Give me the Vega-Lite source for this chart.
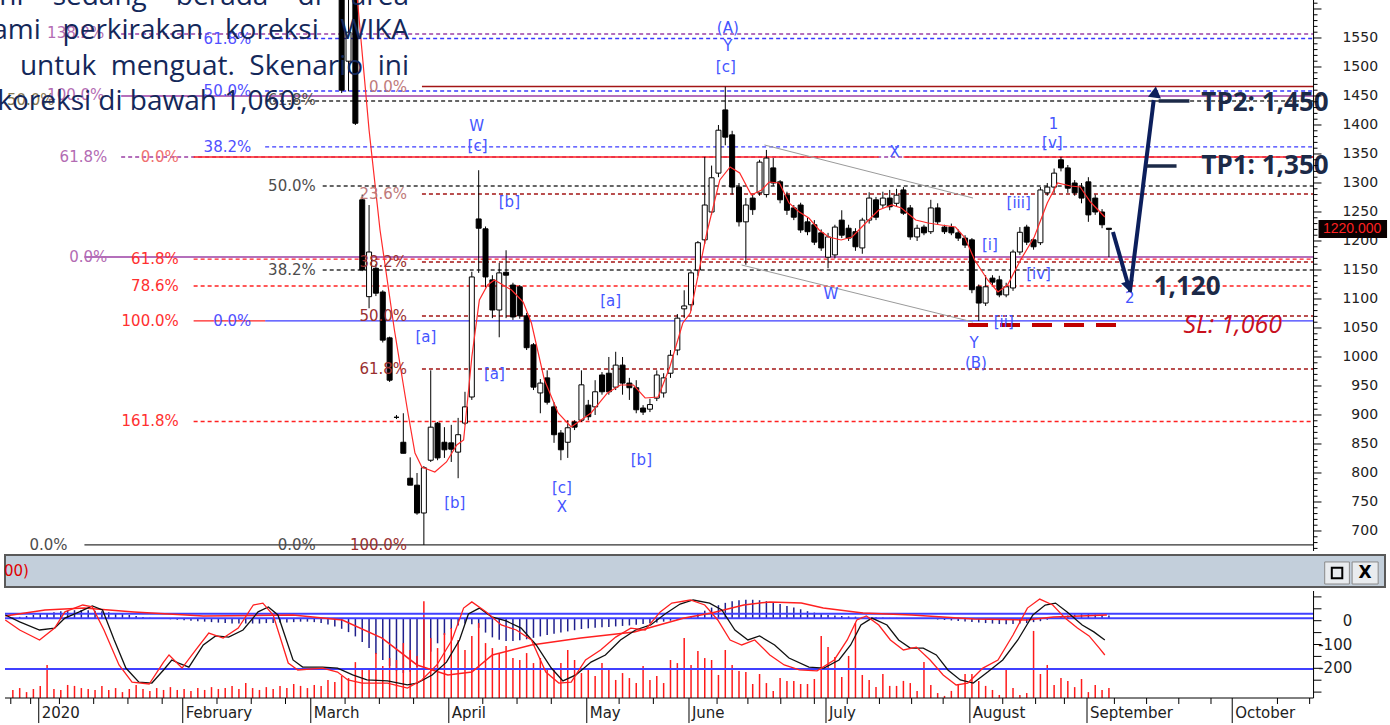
{
  "$schema": "https://vega.github.io/schema/vega-lite/v6.json",
  "width": 1390,
  "height": 725,
  "autosize": {"type": "none"},
  "padding": 0,
  "config": {"view": {"stroke": null}},
  "resolve": {"scale": {"y": "independent"}},
  "encoding": {
    "x": {"field": "i", "type": "quantitative", "scale": {"domain": [-5.145, 196.3], "nice": false, "zero": false}, "axis": null},
    "y": {"field": "p", "type": "quantitative", "scale": {"domain": [365.5, 1615.5], "nice": false, "zero": false}, "axis": null}
  },
  "layer": [
    {
      "data": {"values": [
        {"i":11.81,"i2":185.87,"p":1556.9,"set":"P"},{"i":11.81,"i2":185.87,"p":1344.8,"set":"P"},
        {"i":32.83,"i2":185.87,"p":1549.1,"set":"B"},{"i":32.83,"i2":185.87,"p":1458.6,"set":"B"},{"i":32.83,"i2":185.87,"p":1362.1,"set":"B"},
        {"i":22.39,"i2":185.87,"p":1168.9,"set":"R"},{"i":22.39,"i2":185.87,"p":1122.4,"set":"R"},{"i":22.39,"i2":185.87,"p":888.8,"set":"R"},
        {"i":55.72,"i2":185.87,"p":1281,"set":"D"},{"i":55.72,"i2":185.87,"p":1163.8,"set":"D"},{"i":55.72,"i2":185.87,"p":1070.7,"set":"D"},{"i":55.72,"i2":185.87,"p":979.3,"set":"D"},
        {"i":32.97,"i2":185.87,"p":1441.4,"set":"G"},{"i":41.23,"i2":185.87,"p":1294.8,"set":"G"},{"i":41.23,"i2":185.87,"p":1150,"set":"G"}
      ]},
      "mark": {"type": "rule", "strokeWidth": 1.3, "strokeDash": [4, 3]},
      "encoding": {
        "x2": {"field": "i2"},
        "stroke": {"field": "set", "type": "nominal", "legend": null, "scale": {"domain": ["P","B","R","D","G"], "range": ["#9b3fa5","#3b3bff","#ff2222","#a31515","#333333"]}}
      }
    },
    {
      "data": {"values": [
        {"i":11.81,"i2":185.87,"p":1450,"set":"P"},{"i":6.45,"i2":185.87,"p":1172.4,"set":"P"},
        {"i":32.83,"i2":185.87,"p":1062.1,"set":"B"},
        {"i":22.39,"i2":122.39,"p":1344.8,"set":"R"},{"i":126.01,"i2":185.87,"p":1344.8,"set":"R"},{"i":22.39,"i2":32.83,"p":1062.1,"set":"R"},
        {"i":55.72,"i2":185.87,"p":1466.4,"set":"D"},{"i":6.45,"i2":185.87,"p":675.9,"set":"G"}
      ]},
      "mark": {"type": "rule", "strokeWidth": 1.3},
      "encoding": {
        "x2": {"field": "i2"},
        "stroke": {"field": "set", "type": "nominal", "legend": null, "scale": {"domain": ["P","B","R","D","G"], "range": ["#9b3fa5","#3b3bff","#ff2222","#a31515","#333333"]}}
      }
    },
    {
      "data": {"values": [
        {"seg":"u","i":105.72,"p":1365.5},{"seg":"u","i":136.16,"p":1274.1},
        {"seg":"l","i":102.39,"p":1158.6},{"seg":"l","i":136.16,"p":1060.3}
      ]},
      "mark": {"type": "line", "stroke": "#9a9a9a", "strokeWidth": 1},
      "encoding": {"detail": {"field": "seg", "type": "nominal"}}
    },
    {
      "data": {"values": [{"i": 135.43, "i2": 158.19, "p": 1055.2}]},
      "mark": {"type": "rule", "stroke": "#c00000", "strokeWidth": 4, "strokeDash": [20, 12]},
      "encoding": {"x2": {"field": "i2"}}
    },
    {
      "data": {"values": [
        {"i":44,"o":1700,"h":1720,"l":1455,"c":1460},{"i":45,"o":1510,"h":1640,"l":1458,"c":1560},{"i":46,"o":1640,"h":1650,"l":1400,"c":1403},
        {"i":47,"o":1271,"h":1280,"l":1148,"c":1150},{"i":48,"o":1104,"h":1262,"l":1084,"c":1181},{"i":49,"o":1153,"h":1160,"l":1105,"c":1110},
        {"i":50,"o":1112,"h":1115,"l":1025,"c":1029},{"i":51,"o":1033,"h":1035,"l":957,"c":960},{"i":52,"o":896,"h":900,"l":893,"c":896},
        {"i":53,"o":853,"h":903,"l":834,"c":834},{"i":54,"o":791,"h":827,"l":779,"c":779},{"i":55,"o":779,"h":800,"l":728,"c":731},
        {"i":56,"o":731,"h":812,"l":676,"c":809},{"i":57,"o":822,"h":977,"l":819,"c":879},{"i":58,"o":886,"h":888,"l":822,"c":826},
        {"i":59,"o":853,"h":879,"l":826,"c":840},{"i":60,"o":852,"h":883,"l":819,"c":841},{"i":61,"o":836,"h":895,"l":791,"c":866},
        {"i":62,"o":886,"h":940,"l":883,"c":914},{"i":63,"o":931,"h":1147,"l":926,"c":1138},{"i":64,"o":1238,"h":1322,"l":1145,"c":1222},
        {"i":65,"o":1221,"h":1225,"l":1120,"c":1138},{"i":66,"o":1133,"h":1141,"l":1067,"c":1081},{"i":67,"o":1081,"h":1162,"l":1034,"c":1145},
        {"i":68,"o":1146,"h":1184,"l":1067,"c":1141},{"i":69,"o":1124,"h":1128,"l":1064,"c":1069},{"i":70,"o":1121,"h":1124,"l":1066,"c":1071},
        {"i":71,"o":1071,"h":1076,"l":1012,"c":1016},{"i":72,"o":1021,"h":1024,"l":943,"c":948},{"i":73,"o":938,"h":962,"l":903,"c":955},
        {"i":74,"o":964,"h":977,"l":918,"c":922},{"i":75,"o":914,"h":922,"l":852,"c":866},{"i":76,"o":869,"h":874,"l":822,"c":840},
        {"i":77,"o":853,"h":891,"l":826,"c":878},{"i":78,"o":888,"h":891,"l":874,"c":879},{"i":79,"o":891,"h":977,"l":888,"c":952},
        {"i":80,"o":917,"h":926,"l":891,"c":897},{"i":81,"o":914,"h":960,"l":900,"c":940},{"i":82,"o":969,"h":974,"l":935,"c":940},
        {"i":83,"o":972,"h":1000,"l":935,"c":940},{"i":84,"o":948,"h":1009,"l":943,"c":986},{"i":85,"o":986,"h":1000,"l":935,"c":955},
        {"i":86,"o":955,"h":964,"l":926,"c":947},{"i":87,"o":947,"h":960,"l":903,"c":909},{"i":88,"o":912,"h":917,"l":900,"c":905},
        {"i":89,"o":910,"h":928,"l":905,"c":918},{"i":90,"o":929,"h":977,"l":924,"c":969},{"i":91,"o":938,"h":972,"l":930,"c":964},
        {"i":92,"o":972,"h":1012,"l":964,"c":1003},{"i":93,"o":1012,"h":1074,"l":1003,"c":1067},{"i":94,"o":1083,"h":1115,"l":1067,"c":1088},
        {"i":95,"o":1090,"h":1150,"l":1080,"c":1145},{"i":96,"o":1150,"h":1200,"l":1140,"c":1197},{"i":97,"o":1202,"h":1345,"l":1195,"c":1262},
        {"i":98,"o":1250,"h":1330,"l":1245,"c":1309},{"i":99,"o":1317,"h":1400,"l":1310,"c":1391},{"i":100,"o":1426,"h":1466,"l":1365,"c":1379},
        {"i":101,"o":1383,"h":1390,"l":1280,"c":1293},{"i":102,"o":1293,"h":1300,"l":1225,"c":1233},{"i":103,"o":1233,"h":1274,"l":1159,"c":1262},
        {"i":104,"o":1274,"h":1280,"l":1245,"c":1254},{"i":105,"o":1283,"h":1340,"l":1278,"c":1336},{"i":106,"o":1280,"h":1357,"l":1275,"c":1343},
        {"i":107,"o":1326,"h":1343,"l":1295,"c":1300},{"i":108,"o":1302,"h":1305,"l":1265,"c":1271},{"i":109,"o":1279,"h":1285,"l":1245,"c":1253},
        {"i":110,"o":1257,"h":1262,"l":1236,"c":1241},{"i":111,"o":1262,"h":1266,"l":1214,"c":1219},{"i":112,"o":1233,"h":1240,"l":1210,"c":1216},
        {"i":113,"o":1228,"h":1236,"l":1193,"c":1198},{"i":114,"o":1214,"h":1220,"l":1183,"c":1188},{"i":115,"o":1172,"h":1214,"l":1153,"c":1207},
        {"i":116,"o":1176,"h":1228,"l":1170,"c":1224},{"i":117,"o":1236,"h":1253,"l":1205,"c":1210},{"i":118,"o":1222,"h":1228,"l":1200,"c":1205},
        {"i":119,"o":1216,"h":1222,"l":1183,"c":1190},{"i":120,"o":1188,"h":1240,"l":1178,"c":1236},{"i":121,"o":1236,"h":1284,"l":1230,"c":1274},
        {"i":122,"o":1271,"h":1276,"l":1236,"c":1241},{"i":123,"o":1262,"h":1285,"l":1257,"c":1274},{"i":124,"o":1274,"h":1288,"l":1253,"c":1259},
        {"i":125,"o":1265,"h":1290,"l":1260,"c":1279},{"i":126,"o":1288,"h":1293,"l":1245,"c":1248},{"i":127,"o":1257,"h":1262,"l":1202,"c":1207},
        {"i":128,"o":1207,"h":1228,"l":1200,"c":1222},{"i":129,"o":1224,"h":1228,"l":1210,"c":1214},{"i":130,"o":1216,"h":1271,"l":1212,"c":1257},
        {"i":131,"o":1257,"h":1265,"l":1228,"c":1233},{"i":132,"o":1224,"h":1228,"l":1212,"c":1216},{"i":133,"o":1224,"h":1230,"l":1210,"c":1214},
        {"i":134,"o":1214,"h":1220,"l":1200,"c":1205},{"i":135,"o":1205,"h":1210,"l":1188,"c":1193},{"i":136,"o":1202,"h":1205,"l":1110,"c":1116},
        {"i":137,"o":1121,"h":1125,"l":1062,"c":1093},{"i":138,"o":1093,"h":1141,"l":1088,"c":1121},{"i":139,"o":1136,"h":1141,"l":1124,"c":1129},
        {"i":140,"o":1133,"h":1140,"l":1103,"c":1107},{"i":141,"o":1107,"h":1128,"l":1103,"c":1121},{"i":142,"o":1119,"h":1185,"l":1114,"c":1181},
        {"i":143,"o":1181,"h":1224,"l":1176,"c":1215},{"i":144,"o":1224,"h":1228,"l":1193,"c":1198},{"i":145,"o":1202,"h":1205,"l":1185,"c":1190},
        {"i":146,"o":1197,"h":1293,"l":1193,"c":1288},{"i":147,"o":1283,"h":1300,"l":1278,"c":1293},{"i":148,"o":1293,"h":1325,"l":1283,"c":1317},
        {"i":149,"o":1340,"h":1345,"l":1320,"c":1326},{"i":150,"o":1326,"h":1331,"l":1283,"c":1291},{"i":151,"o":1300,"h":1305,"l":1278,"c":1283},
        {"i":152,"o":1293,"h":1300,"l":1265,"c":1274},{"i":153,"o":1302,"h":1310,"l":1233,"c":1245},{"i":154,"o":1274,"h":1280,"l":1245,"c":1250},
        {"i":155,"o":1250,"h":1255,"l":1222,"c":1228},{"i":156,"o":1222,"h":1222,"l":1172,"c":1220}
      ]},
      "layer": [
        {
          "mark": {"type": "rule", "stroke": "#000", "strokeWidth": 1, "clip": true},
          "encoding": {
            "y": {"field": "l", "type": "quantitative", "scale": {"domain": [365.5, 1615.5], "nice": false, "zero": false}, "axis": null},
            "y2": {"field": "h"}
          }
        },
        {
          "transform": [{"filter": "datum.c >= datum.o"}],
          "mark": {"type": "bar", "size": 5, "fill": "#ffffff", "stroke": "#000", "strokeWidth": 1, "clip": true},
          "encoding": {
            "y": {"field": "o", "type": "quantitative", "scale": {"domain": [365.5, 1615.5], "nice": false, "zero": false}, "axis": null},
            "y2": {"field": "c"}
          }
        },
        {
          "transform": [{"filter": "datum.c < datum.o"}],
          "mark": {"type": "bar", "size": 5, "fill": "#000000", "stroke": "#000", "strokeWidth": 1, "clip": true},
          "encoding": {
            "y": {"field": "o", "type": "quantitative", "scale": {"domain": [365.5, 1615.5], "nice": false, "zero": false}, "axis": null},
            "y2": {"field": "c"}
          }
        }
      ]
    },
    {
      "data": {"values": [
        {"i":45.6,"p":1667},{"i":46.3,"p":1615.5},{"i":48.0,"p":1391.4},{"i":49.6,"p":1219},{"i":51.7,"p":1046.5},{"i":53.6,"p":908.6},
        {"i":54.7,"p":834.5},{"i":55.7,"p":810.3},{"i":57.6,"p":801.7},{"i":59.3,"p":819},{"i":60.8,"p":848.3},{"i":61.8,"p":856.9},
        {"i":63.0,"p":1000},{"i":64.1,"p":1098.3},{"i":65.3,"p":1124.1},{"i":66.3,"p":1132.8},{"i":68.8,"p":1115.5},{"i":70.5,"p":1094.8},
        {"i":71.7,"p":1058.6},{"i":73.6,"p":960.3},{"i":75.6,"p":903.5},{"i":77.5,"p":879.3},{"i":80.4,"p":903.5},{"i":82.8,"p":938},
        {"i":84.7,"p":951.7},{"i":86.6,"p":951.7},{"i":88.3,"p":929.3},{"i":90.2,"p":931},{"i":91.9,"p":982.8},{"i":93.8,"p":1058.6},
        {"i":94.9,"p":1075.8},{"i":97.3,"p":1213.8},{"i":99.2,"p":1305.2},{"i":100.7,"p":1327.6},{"i":102.1,"p":1317.2},{"i":103.8,"p":1279.3},
        {"i":105.3,"p":1287.9},{"i":106.4,"p":1301.7},{"i":107.9,"p":1300},{"i":109.3,"p":1265.5},{"i":110.8,"p":1250},{"i":112.2,"p":1239.6},
        {"i":113.7,"p":1219},{"i":115.1,"p":1206.9},{"i":116.9,"p":1201.7},{"i":118.5,"p":1206.9},{"i":120.5,"p":1231},{"i":122.4,"p":1253.4},
        {"i":124.3,"p":1262.1},{"i":125.7,"p":1256.9},{"i":127.8,"p":1236.2},{"i":129.6,"p":1231},{"i":131.5,"p":1227.6},{"i":133.6,"p":1224.1},
        {"i":135.0,"p":1205.2},{"i":136.4,"p":1167.2},{"i":138.3,"p":1132.8},{"i":139.8,"p":1112.1},{"i":141.2,"p":1124.1},{"i":143.1,"p":1167.2},
        {"i":145.1,"p":1206.9},{"i":147.0,"p":1265.5},{"i":148.5,"p":1300},{"i":150.4,"p":1294.8},{"i":151.8,"p":1293.1},{"i":153.3,"p":1267.2},
        {"i":155.4,"p":1241.4}
      ]},
      "mark": {"type": "line", "stroke": "#ff2a2a", "strokeWidth": 1.2, "clip": true},
      "encoding": {}
    },
    {
      "data": {"values": [
        {"i":9.35,"p":1558.6,"t":"138.2%","set":"Pl"},{"i":9.35,"p":1451.7,"t":"100.0%","set":"Pl"},
        {"i":9.78,"p":1344.8,"t":"61.8%","set":"Pl"},{"i":9.78,"p":1172.4,"t":"0.0%","set":"Pl"},
        {"i":30.8,"p":1548.3,"t":"61.8%","set":"Bl"},{"i":30.8,"p":1458.6,"t":"50.0%","set":"Bl"},
        {"i":30.8,"p":1362.1,"t":"38.2%","set":"Bl"},{"i":30.8,"p":1062.1,"t":"0.0%","set":"Bl"},
        {"i":20.22,"p":1344.8,"t":"0.0%","set":"Rs"},{"i":20.22,"p":1169,"t":"61.8%","set":"Rl"},
        {"i":20.22,"p":1122.4,"t":"78.6%","set":"Rl"},{"i":20.22,"p":1062.1,"t":"100.0%","set":"Rl"},
        {"i":20.22,"p":889.6,"t":"161.8%","set":"Rl"},
        {"i":53.55,"p":1465.5,"t":"0.0%","set":"Dl2"},{"i":53.55,"p":1281,"t":"23.6%","set":"Dl2"},
        {"i":53.55,"p":1163.8,"t":"38.2%","set":"Dl"},{"i":53.55,"p":1070.7,"t":"50.0%","set":"Dl"},
        {"i":53.55,"p":979.3,"t":"61.8%","set":"Dl"},{"i":53.55,"p":675.9,"t":"100.0%","set":"Dl"},
        {"i":40.22,"p":1443.1,"t":"61.8%","set":"Gl"},{"i":40.22,"p":1294.8,"t":"50.0%","set":"Gl"},
        {"i":40.22,"p":1150,"t":"38.2%","set":"Gl"},{"i":40.22,"p":675.9,"t":"0.0%","set":"Gl"},
        {"i":3.99,"p":675.9,"t":"0.0%","set":"Gl"},{"i":2.1,"p":1443.1,"t":"50.0%","set":"Ol"}
      ]},
      "mark": {"type": "text", "align": "right", "baseline": "middle", "fontSize": 15, "font": "DejaVu Sans"},
      "encoding": {
        "text": {"field": "t", "type": "nominal"},
        "color": {"field": "set", "type": "nominal", "legend": null, "scale": {"domain": ["Pl","Bl","Rs","Rl","Dl","Dl2","Gl","Ol"], "range": ["#b36bb3","#5050ff","#f07070","#ff3030","#9a2f2f","#c07a7a","#4d4d4d","#8a7a50"]}}
      }
    },
    {
      "data": {"values": [
        {"i":100.36,"p":1567.2,"t":"(A)"},{"i":100.36,"p":1536.2,"t":"Y"},{"i":100.07,"p":1500,"t":"[c]"},
        {"i":63.7,"p":1398.3,"t":"W"},{"i":63.84,"p":1363.8,"t":"[c]"},{"i":68.48,"p":1267.2,"t":"[b]"},
        {"i":124.71,"p":1353.4,"t":"X"},{"i":147.9,"p":1401.7,"t":"1"},{"i":147.75,"p":1369,"t":"[v]"},
        {"i":142.83,"p":1265.5,"t":"[iii]"},{"i":138.62,"p":1193.1,"t":"[i]"},{"i":145.72,"p":1143.1,"t":"[iv]"},
        {"i":115.43,"p":1108.6,"t":"W"},{"i":83.26,"p":1096.5,"t":"[a]"},{"i":56.3,"p":1034.5,"t":"[a]"},
        {"i":66.3,"p":970.7,"t":"[a]"},{"i":140.65,"p":1060.3,"t":"[ii]"},{"i":136.3,"p":1024.1,"t":"Y"},
        {"i":136.59,"p":989.7,"t":"(B)"},{"i":60.51,"p":748.3,"t":"[b]"},{"i":76.16,"p":774.1,"t":"[c]"},
        {"i":76.16,"p":741.4,"t":"X"},{"i":87.75,"p":822.4,"t":"[b]"},{"i":159.06,"p":1101.7,"t":"2"}
      ]},
      "mark": {"type": "text", "align": "center", "baseline": "middle", "fontSize": 15, "font": "DejaVu Sans", "color": "#4455ff"},
      "encoding": {"text": {"field": "t", "type": "nominal"}}
    },
    {
      "data": {"values": [
        {"seg":"down","i":156.59,"p":1215.5},{"seg":"down","i":158.77,"p":1125.9},
        {"seg":"up","i":159.06,"p":1112.1},{"seg":"up","i":162.54,"p":1443.1}
      ]},
      "mark": {"type": "line", "stroke": "#0c1f5c", "strokeWidth": 4},
      "encoding": {"detail": {"field": "seg", "type": "nominal"}}
    },
    {
      "data": {"values": [{"i": 158.91, "p": 1120.7}]},
      "mark": {"type": "point", "shape": "triangle-down", "size": 170, "filled": true, "color": "#0c1f5c", "opacity": 1, "angle": 344},
      "encoding": {}
    },
    {
      "data": {"values": [{"i": 162.75, "p": 1456.9}]},
      "mark": {"type": "point", "shape": "triangle-up", "size": 170, "filled": true, "color": "#0c1f5c", "opacity": 1, "angle": 7},
      "encoding": {}
    },
    {
      "data": {"values": [{"i": 163.26, "i2": 167.75, "p": 1441.4}, {"i": 161.52, "i2": 165.87, "p": 1329.3}]},
      "mark": {"type": "rule", "stroke": "#1c2a48", "strokeWidth": 3.5},
      "encoding": {"x2": {"field": "i2"}}
    },
    {
      "data": {"values": [{"i": 169.49, "p": 1437.9, "t": "TP2: 1,450"}, {"i": 169.49, "p": 1329.3, "t": "TP1: 1,350"}, {"i": 162.54, "p": 1120.7, "t": "1,120"}]},
      "mark": {"type": "text", "align": "left", "baseline": "middle", "font": "Open Sans", "fontWeight": "bold", "fontSize": 26, "color": "#1c2a48"},
      "encoding": {"text": {"field": "t", "type": "nominal"}}
    },
    {
      "data": {"values": [{"i": 166.88, "p": 1055.2, "t": "SL: 1,060"}]},
      "mark": {"type": "text", "align": "left", "baseline": "middle", "font": "Open Sans", "fontStyle": "italic", "fontSize": 25, "color": "#c8101e"},
      "encoding": {"text": {"field": "t", "type": "nominal"}}
    },
    {
      "data": {"values": [{"i": 185.87, "p": 665.5, "p2": 1615.5}]},
      "mark": {"type": "rule", "stroke": "#000", "strokeWidth": 1},
      "encoding": {"y2": {"field": "p2"}}
    },
    {
      "data": {"values": [
        {"i":185.87,"i2":186.45,"p":670},{"i":185.87,"i2":186.45,"p":680},{"i":185.87,"i2":186.45,"p":690},{"i":185.87,"i2":186.45,"p":710},{"i":185.87,"i2":186.45,"p":720},
        {"i":185.87,"i2":186.45,"p":730},{"i":185.87,"i2":186.45,"p":740},{"i":185.87,"i2":186.45,"p":760},{"i":185.87,"i2":186.45,"p":770},{"i":185.87,"i2":186.45,"p":780},
        {"i":185.87,"i2":186.45,"p":790},{"i":185.87,"i2":186.45,"p":810},{"i":185.87,"i2":186.45,"p":820},{"i":185.87,"i2":186.45,"p":830},{"i":185.87,"i2":186.45,"p":840},
        {"i":185.87,"i2":186.45,"p":860},{"i":185.87,"i2":186.45,"p":870},{"i":185.87,"i2":186.45,"p":880},{"i":185.87,"i2":186.45,"p":890},{"i":185.87,"i2":186.45,"p":910},
        {"i":185.87,"i2":186.45,"p":920},{"i":185.87,"i2":186.45,"p":930},{"i":185.87,"i2":186.45,"p":940},{"i":185.87,"i2":186.45,"p":960},{"i":185.87,"i2":186.45,"p":970},
        {"i":185.87,"i2":186.45,"p":980},{"i":185.87,"i2":186.45,"p":990},{"i":185.87,"i2":186.45,"p":1010},{"i":185.87,"i2":186.45,"p":1020},{"i":185.87,"i2":186.45,"p":1030},
        {"i":185.87,"i2":186.45,"p":1040},{"i":185.87,"i2":186.45,"p":1060},{"i":185.87,"i2":186.45,"p":1070},{"i":185.87,"i2":186.45,"p":1080},{"i":185.87,"i2":186.45,"p":1090},
        {"i":185.87,"i2":186.45,"p":1110},{"i":185.87,"i2":186.45,"p":1120},{"i":185.87,"i2":186.45,"p":1130},{"i":185.87,"i2":186.45,"p":1140},{"i":185.87,"i2":186.45,"p":1160},
        {"i":185.87,"i2":186.45,"p":1170},{"i":185.87,"i2":186.45,"p":1180},{"i":185.87,"i2":186.45,"p":1190},{"i":185.87,"i2":186.45,"p":1210},{"i":185.87,"i2":186.45,"p":1220},
        {"i":185.87,"i2":186.45,"p":1230},{"i":185.87,"i2":186.45,"p":1240},{"i":185.87,"i2":186.45,"p":1260},{"i":185.87,"i2":186.45,"p":1270},{"i":185.87,"i2":186.45,"p":1280},
        {"i":185.87,"i2":186.45,"p":1290},{"i":185.87,"i2":186.45,"p":1310},{"i":185.87,"i2":186.45,"p":1320},{"i":185.87,"i2":186.45,"p":1330},{"i":185.87,"i2":186.45,"p":1340},
        {"i":185.87,"i2":186.45,"p":1360},{"i":185.87,"i2":186.45,"p":1370},{"i":185.87,"i2":186.45,"p":1380},{"i":185.87,"i2":186.45,"p":1390},{"i":185.87,"i2":186.45,"p":1410},
        {"i":185.87,"i2":186.45,"p":1420},{"i":185.87,"i2":186.45,"p":1430},{"i":185.87,"i2":186.45,"p":1440},{"i":185.87,"i2":186.45,"p":1460},{"i":185.87,"i2":186.45,"p":1470},
        {"i":185.87,"i2":186.45,"p":1480},{"i":185.87,"i2":186.45,"p":1490},{"i":185.87,"i2":186.45,"p":1510},{"i":185.87,"i2":186.45,"p":1520},{"i":185.87,"i2":186.45,"p":1530},
        {"i":185.87,"i2":186.45,"p":1540},{"i":185.87,"i2":186.45,"p":1560},{"i":185.87,"i2":186.45,"p":1570},{"i":185.87,"i2":186.45,"p":1580},{"i":185.87,"i2":186.45,"p":1590},
        {"i":185.87,"i2":186.45,"p":1610},
        {"i":185.87,"i2":187.03,"p":700},{"i":185.87,"i2":187.03,"p":750},{"i":185.87,"i2":187.03,"p":800},{"i":185.87,"i2":187.03,"p":850},{"i":185.87,"i2":187.03,"p":900},
        {"i":185.87,"i2":187.03,"p":950},{"i":185.87,"i2":187.03,"p":1000},{"i":185.87,"i2":187.03,"p":1050},{"i":185.87,"i2":187.03,"p":1100},{"i":185.87,"i2":187.03,"p":1150},
        {"i":185.87,"i2":187.03,"p":1200},{"i":185.87,"i2":187.03,"p":1250},{"i":185.87,"i2":187.03,"p":1300},{"i":185.87,"i2":187.03,"p":1350},{"i":185.87,"i2":187.03,"p":1400},
        {"i":185.87,"i2":187.03,"p":1450},{"i":185.87,"i2":187.03,"p":1500},{"i":185.87,"i2":187.03,"p":1550},{"i":185.87,"i2":187.03,"p":1600}
      ]},
      "mark": {"type": "rule", "stroke": "#000", "strokeWidth": 1},
      "encoding": {"x2": {"field": "i2"}}
    },
    {
      "data": {"values": [
        {"i":195.29,"p":700},{"i":195.29,"p":750},{"i":195.29,"p":800},{"i":195.29,"p":850},{"i":195.29,"p":900},{"i":195.29,"p":950},
        {"i":195.29,"p":1000},{"i":195.29,"p":1050},{"i":195.29,"p":1100},{"i":195.29,"p":1150},{"i":195.29,"p":1200},{"i":195.29,"p":1250},
        {"i":195.29,"p":1300},{"i":195.29,"p":1350},{"i":195.29,"p":1400},{"i":195.29,"p":1450},{"i":195.29,"p":1500},{"i":195.29,"p":1550}
      ]},
      "mark": {"type": "text", "align": "right", "baseline": "middle", "font": "DejaVu Sans", "fontSize": 14, "color": "#222"},
      "encoding": {"text": {"field": "p", "type": "quantitative", "format": "d"}}
    },
    {
      "data": {"values": [{"i": 186.6, "i2": 196.6, "p": 1236, "p2": 1205}]},
      "mark": {"type": "rect", "fill": "#0a0000"},
      "encoding": {"x2": {"field": "i2"}, "y2": {"field": "p2"}}
    },
    {
      "data": {"values": [{"i": 191.5, "p": 1220.5, "t": "1220.000"}]},
      "mark": {"type": "text", "align": "center", "baseline": "middle", "font": "Liberation Sans", "fontSize": 14, "color": "#ff2020"},
      "encoding": {"text": {"field": "t", "type": "nominal"}}
    },
    {
      "data": {"values": [
        {"i":53.84,"p":1606.9,"t":"WIKA saat ini \u00a0\u00a0\u00a0sedang \u00a0\u00a0\u00a0berada \u00a0\u00a0\u00a0di \u00a0\u00a0\u00a0area"},
        {"i":53.84,"p":1548.3,"t":"Kami \u00a0\u00a0perkirakan \u00a0\u00a0koreksi \u00a0\u00a0WIKA"},
        {"i":53.84,"p":1486.2,"t":"untuk \u00a0menguat. \u00a0Skenario \u00a0ini"},
        {"i":38.33,"p":1425.9,"t":"koreksi di bawah 1,060."}
      ]},
      "mark": {"type": "text", "align": "right", "baseline": "alphabetic", "font": "Open Sans", "fontSize": 28, "color": "#14285a", "clip": true},
      "encoding": {"text": {"field": "t", "type": "nominal"}}
    },
    {
      "data": {"values": [{"i": -5.145, "i2": 196.3, "p": 658.6, "p2": 603.5}]},
      "mark": {"type": "rect", "fill": "#c3cfdb", "stroke": "#5a5a5a", "strokeWidth": 2},
      "encoding": {"x2": {"field": "i2"}, "y2": {"field": "p2"}}
    },
    {
      "data": {"values": [{"i": -5.3, "p": 631, "t": "00)"}]},
      "mark": {"type": "text", "align": "left", "baseline": "middle", "font": "DejaVu Sans", "fontSize": 15, "color": "#e00000", "clip": true},
      "encoding": {"text": {"field": "t", "type": "nominal"}}
    },
    {
      "data": {"values": [{"i": 187.5, "i2": 191.1, "p": 646.6, "p2": 608.6}, {"i": 191.5, "i2": 195.3, "p": 646.6, "p2": 608.6}]},
      "mark": {"type": "rect", "fill": "#e9ecef", "stroke": "#8a8a8a", "strokeWidth": 1},
      "encoding": {"x2": {"field": "i2"}, "y2": {"field": "p2"}}
    },
    {
      "data": {"values": [{"i": 189.3, "p": 627.6}]},
      "mark": {"type": "point", "shape": "square", "size": 110, "filled": false, "stroke": "#000", "strokeWidth": 2, "opacity": 1},
      "encoding": {}
    },
    {
      "data": {"values": [{"i": 193.4, "p": 627.6, "t": "X"}]},
      "mark": {"type": "text", "align": "center", "baseline": "middle", "font": "DejaVu Sans", "fontSize": 17, "fontWeight": "bold", "color": "#000"},
      "encoding": {"text": {"field": "t", "type": "nominal"}}
    },
    {
      "data": {"values": [
        {"i":-4,"vt":-291,"hb":14},{"i":-3,"vt":-283,"hb":16},{"i":-2,"vt":-300,"hb":20},{"i":-1,"vt":-287,"hb":24},
        {"i":0,"vt":-274,"hb":28},{"i":1,"vt":-186,"hb":32},{"i":2,"vt":-287,"hb":36},{"i":3,"vt":-291,"hb":40},{"i":4,"vt":-270,"hb":42},
        {"i":5,"vt":-274,"hb":44},{"i":6,"vt":-283,"hb":45},{"i":7,"vt":-287,"hb":44},{"i":8,"vt":-291,"hb":42},{"i":9,"vt":-274,"hb":40},
        {"i":10,"vt":-291,"hb":36},{"i":11,"vt":-283,"hb":32},{"i":12,"vt":-300,"hb":28},{"i":13,"vt":-287,"hb":24},{"i":14,"vt":-270,"hb":20},
        {"i":15,"vt":-287,"hb":16},{"i":16,"vt":-295,"hb":12},{"i":17,"vt":-283,"hb":10},{"i":18,"vt":-291,"hb":8},{"i":19,"vt":-279,"hb":6},
        {"i":20,"vt":-291,"hb":4},{"i":21,"vt":-287,"hb":2},{"i":22,"vt":-295,"hb":0},{"i":23,"vt":-283,"hb":-2},{"i":24,"vt":-291,"hb":-4},
        {"i":25,"vt":-279,"hb":-6},{"i":26,"vt":-287,"hb":-8},{"i":27,"vt":-283,"hb":-10},{"i":28,"vt":-274,"hb":-12},{"i":29,"vt":-287,"hb":-12},
        {"i":30,"vt":-262,"hb":-12},{"i":31,"vt":-283,"hb":-12},{"i":32,"vt":-291,"hb":-12},{"i":33,"vt":-279,"hb":-10},{"i":34,"vt":-287,"hb":-10},
        {"i":35,"vt":-274,"hb":-8},{"i":36,"vt":-283,"hb":-8},{"i":37,"vt":-266,"hb":-6},{"i":38,"vt":-274,"hb":-4},{"i":39,"vt":-283,"hb":-4},
        {"i":40,"vt":-270,"hb":-6},{"i":41,"vt":-274,"hb":-10},{"i":42,"vt":-249,"hb":-16},{"i":43,"vt":-258,"hb":-24},{"i":44,"vt":-232,"hb":-34},
        {"i":45,"vt":-241,"hb":-48},{"i":46,"vt":-174,"hb":-66},{"i":47,"vt":-207,"hb":-90},{"i":48,"vt":-199,"hb":-115},{"i":49,"vt":-136,"hb":-140},
        {"i":50,"vt":-190,"hb":-165},{"i":51,"vt":-157,"hb":-190},{"i":52,"vt":-165,"hb":-210},{"i":53,"vt":-94,"hb":-220},{"i":54,"vt":-123,"hb":-215},
        {"i":55,"vt":-148,"hb":-195},{"i":56,"vt":82,"hb":-165},{"i":57,"vt":-73,"hb":-130},{"i":58,"vt":-115,"hb":-95},{"i":59,"vt":-52,"hb":-60},
        {"i":60,"vt":-31,"hb":-35},{"i":61,"vt":-81,"hb":-20},{"i":62,"vt":-123,"hb":-12},{"i":63,"vt":-64,"hb":-15},{"i":64,"vt":-10,"hb":-30},
        {"i":65,"vt":-94,"hb":-50},{"i":66,"vt":-115,"hb":-70},{"i":67,"vt":-136,"hb":-80},{"i":68,"vt":-106,"hb":-85},{"i":69,"vt":-157,"hb":-85},
        {"i":70,"vt":-165,"hb":-82},{"i":71,"vt":-136,"hb":-78},{"i":72,"vt":-178,"hb":-72},{"i":73,"vt":-157,"hb":-66},{"i":74,"vt":-199,"hb":-60},
        {"i":75,"vt":-207,"hb":-55},{"i":76,"vt":-178,"hb":-50},{"i":77,"vt":-123,"hb":-45},{"i":78,"vt":-165,"hb":-40},{"i":79,"vt":-220,"hb":-35},
        {"i":80,"vt":-199,"hb":-32},{"i":81,"vt":-232,"hb":-30},{"i":82,"vt":-178,"hb":-28},{"i":83,"vt":-207,"hb":-26},{"i":84,"vt":-249,"hb":-24},
        {"i":85,"vt":-220,"hb":-22},{"i":86,"vt":-241,"hb":-20},{"i":87,"vt":-262,"hb":-17},{"i":88,"vt":-190,"hb":-14},{"i":89,"vt":-249,"hb":-11},
        {"i":90,"vt":-232,"hb":-8},{"i":91,"vt":-262,"hb":-4},{"i":92,"vt":-165,"hb":0},{"i":93,"vt":-178,"hb":4},{"i":94,"vt":-73,"hb":10},
        {"i":95,"vt":-186,"hb":20},{"i":96,"vt":-127,"hb":30},{"i":97,"vt":-157,"hb":42},{"i":98,"vt":-165,"hb":55},{"i":99,"vt":-228,"hb":65},
        {"i":100,"vt":-123,"hb":75},{"i":101,"vt":-186,"hb":82},{"i":102,"vt":-211,"hb":86},{"i":103,"vt":-216,"hb":88},{"i":104,"vt":-266,"hb":88},
        {"i":105,"vt":-224,"hb":86},{"i":106,"vt":-262,"hb":82},{"i":107,"vt":-295,"hb":76},{"i":108,"vt":-241,"hb":70},{"i":109,"vt":-253,"hb":62},
        {"i":110,"vt":-253,"hb":55},{"i":111,"vt":-266,"hb":48},{"i":112,"vt":-266,"hb":40},{"i":113,"vt":-245,"hb":34},{"i":114,"vt":-64,"hb":28},
        {"i":115,"vt":-111,"hb":24},{"i":116,"vt":-153,"hb":22},{"i":117,"vt":-237,"hb":20},{"i":118,"vt":-148,"hb":18},{"i":119,"vt":-10,"hb":17},
        {"i":120,"vt":-228,"hb":16},{"i":121,"vt":-249,"hb":15},{"i":122,"vt":-279,"hb":14},{"i":123,"vt":-224,"hb":13},{"i":124,"vt":-274,"hb":12},
        {"i":125,"vt":-274,"hb":12},{"i":126,"vt":-253,"hb":11},{"i":127,"vt":-262,"hb":10},{"i":128,"vt":-295,"hb":9},{"i":129,"vt":-174,"hb":8},
        {"i":130,"vt":-270,"hb":7},{"i":131,"vt":-304,"hb":5},{"i":132,"vt":-316,"hb":3},{"i":133,"vt":-295,"hb":1},{"i":134,"vt":-270,"hb":-1},
        {"i":135,"vt":-224,"hb":-3},{"i":136,"vt":-224,"hb":-5},{"i":137,"vt":-253,"hb":-8},{"i":138,"vt":-274,"hb":-10},{"i":139,"vt":-291,"hb":-12},
        {"i":140,"vt":-312,"hb":-14},{"i":141,"vt":-203,"hb":-15},{"i":142,"vt":-283,"hb":-14},{"i":143,"vt":-312,"hb":-12},{"i":144,"vt":-304,"hb":-10},
        {"i":145,"vt":-43,"hb":-6},{"i":146,"vt":-224,"hb":-2},{"i":147,"vt":-186,"hb":4},{"i":148,"vt":-270,"hb":10},{"i":149,"vt":-241,"hb":16},
        {"i":150,"vt":-253,"hb":22},{"i":151,"vt":-279,"hb":26},{"i":152,"vt":-245,"hb":28},{"i":153,"vt":-300,"hb":28},{"i":154,"vt":-270,"hb":26},
        {"i":155,"vt":-291,"hb":24},{"i":156,"vt":-283,"hb":22}
      ]},
      "layer": [
        {
          "mark": {"type": "rule", "stroke": "#20208c", "strokeWidth": 1.5},
          "encoding": {
            "y": {"field": "hb", "type": "quantitative", "scale": {"domain": [-324.8, 124.8], "range": [698, 591], "nice": false, "zero": false}, "axis": null},
            "y2": {"datum": 10}
          }
        },
        {
          "mark": {"type": "rule", "stroke": "#ff1a1a", "strokeWidth": 1.5},
          "encoding": {
            "y": {"field": "vt", "type": "quantitative", "scale": {"domain": [-324.8, 124.8], "range": [698, 591], "nice": false, "zero": false}, "axis": null},
            "y2": {"datum": -324.8}
          }
        }
      ]
    },
    {
      "data": {"values": [{"i": -5.145, "i2": 185.87, "v": 29.4}, {"i": -5.145, "i2": 185.87, "v": 10}, {"i": -5.145, "i2": 185.87, "v": -203}]},
      "mark": {"type": "rule", "stroke": "#4040ff", "strokeWidth": 2},
      "encoding": {
        "x2": {"field": "i2"},
        "y": {"field": "v", "type": "quantitative", "scale": {"domain": [-324.8, 124.8], "range": [698, 591], "nice": false, "zero": false}, "axis": null}
      }
    },
    {
      "data": {"values": [
        {"i":-5.1,"v":20},{"i":0.7,"v":45},{"i":6.4,"v":53},{"i":13.7,"v":37},{"i":23.8,"v":20},{"i":36.9,"v":24},{"i":44.1,"v":3},
        {"i":49.9,"v":-73},{"i":55.0,"v":-186},{"i":59.5,"v":-228},{"i":63.0,"v":-216},{"i":66.0,"v":-144},{"i":71.7,"v":-102},
        {"i":78.9,"v":-73},{"i":86.7,"v":-47},{"i":94.0,"v":11},{"i":98.0,"v":32},{"i":102.7,"v":66},{"i":106.5,"v":79},
        {"i":111.1,"v":74},{"i":114.3,"v":53},{"i":120.1,"v":32},{"i":127.2,"v":24},{"i":136.3,"v":7},{"i":144.0,"v":3},
        {"i":147.9,"v":16},{"i":155.7,"v":24}
      ]},
      "mark": {"type": "line", "stroke": "#ff2020", "strokeWidth": 1.5},
      "encoding": {"y": {"field": "v", "type": "quantitative", "scale": {"domain": [-324.8, 124.8], "range": [698, 591], "nice": false, "zero": false}, "axis": null}}
    },
    {
      "data": {"values": [
        {"i":-5.1,"v":24},{"i":-3.0,"v":-5},{"i":-0.1,"v":-39},{"i":2.1,"v":-31},{"i":3.6,"v":11},{"i":5.7,"v":37},{"i":7.6,"v":62},
        {"i":9.1,"v":45},{"i":10.8,"v":-81},{"i":12.5,"v":-199},{"i":14.4,"v":-258},{"i":16.3,"v":-262},{"i":18.0,"v":-207},
        {"i":19.2,"v":-165},{"i":20.2,"v":-178},{"i":21.7,"v":-195},{"i":23.8,"v":-102},{"i":25.6,"v":-64},{"i":27.5,"v":-69},
        {"i":29.6,"v":-39},{"i":31.8,"v":37},{"i":33.3,"v":58},{"i":34.7,"v":24},{"i":36.9,"v":-165},{"i":38.3,"v":-195},
        {"i":41.2,"v":-195},{"i":43.4,"v":-199},{"i":45.6,"v":-228},{"i":47.7,"v":-249},{"i":50.7,"v":-253},{"i":53.6,"v":-270},
        {"i":55.0,"v":-262},{"i":57.2,"v":-228},{"i":59.3,"v":-174},{"i":61.2,"v":-81},{"i":62.5,"v":28},{"i":64.1,"v":53},
        {"i":65.9,"v":16},{"i":68.0,"v":-1},{"i":70.2,"v":-31},{"i":72.4,"v":-102},{"i":74.6,"v":-199},{"i":76.3,"v":-253},
        {"i":78.2,"v":-228},{"i":80.4,"v":-174},{"i":82.5,"v":-144},{"i":84.7,"v":-81},{"i":86.9,"v":-39},{"i":89.1,"v":-18},
        {"i":91.2,"v":28},{"i":93.4,"v":70},{"i":95.3,"v":87},{"i":97.7,"v":74},{"i":99.5,"v":45},{"i":101.4,"v":-39},
        {"i":103.3,"v":-81},{"i":105.0,"v":-64},{"i":107.2,"v":-102},{"i":109.3,"v":-157},{"i":112.2,"v":-195},{"i":114.4,"v":-199},
        {"i":116.6,"v":-165},{"i":118.3,"v":-102},{"i":119.8,"v":-18},{"i":121.4,"v":11},{"i":123.6,"v":-18},{"i":125.3,"v":-81},
        {"i":127.0,"v":-115},{"i":128.9,"v":-115},{"i":130.8,"v":-144},{"i":132.5,"v":-207},{"i":134.3,"v":-249},{"i":136.2,"v":-262},
        {"i":138.3,"v":-216},{"i":140.5,"v":-165},{"i":142.7,"v":-81},{"i":144.9,"v":24},{"i":146.7,"v":66},{"i":148.2,"v":74},
        {"i":149.9,"v":37},{"i":152.1,"v":-18},{"i":153.8,"v":-47},{"i":155.4,"v":-81}
      ]},
      "mark": {"type": "line", "stroke": "#111", "strokeWidth": 1.3},
      "encoding": {"y": {"field": "v", "type": "quantitative", "scale": {"domain": [-324.8, 124.8], "range": [698, 591], "nice": false, "zero": false}, "axis": null}}
    },
    {
      "data": {"values": [
        {"i":-5.1,"v":3},{"i":-3.0,"v":-39},{"i":-0.1,"v":-81},{"i":2.1,"v":-31},{"i":3.6,"v":37},{"i":6.2,"v":66},{"i":7.6,"v":58},
        {"i":9.3,"v":-39},{"i":11.5,"v":-186},{"i":13.4,"v":-258},{"i":15.9,"v":-266},{"i":18.0,"v":-174},{"i":18.8,"v":-144},
        {"i":20.7,"v":-199},{"i":22.7,"v":-123},{"i":24.6,"v":-52},{"i":26.7,"v":-73},{"i":28.9,"v":-31},{"i":31.1,"v":66},
        {"i":32.5,"v":74},{"i":34.0,"v":24},{"i":36.2,"v":-178},{"i":37.6,"v":-207},{"i":41.2,"v":-199},{"i":43.4,"v":-216},
        {"i":44.9,"v":-249},{"i":47.0,"v":-262},{"i":50.7,"v":-262},{"i":53.6,"v":-283},{"i":55.7,"v":-249},{"i":57.9,"v":-186},
        {"i":60.1,"v":-81},{"i":61.8,"v":53},{"i":63.0,"v":79},{"i":65.1,"v":37},{"i":67.3,"v":-18},{"i":69.5,"v":-39},
        {"i":71.7,"v":-81},{"i":73.8,"v":-216},{"i":75.7,"v":-262},{"i":77.5,"v":-258},{"i":79.6,"v":-165},{"i":81.8,"v":-123},
        {"i":84.0,"v":-69},{"i":86.2,"v":-31},{"i":88.3,"v":-39},{"i":90.5,"v":37},{"i":92.2,"v":74},{"i":94.9,"v":87},
        {"i":97.0,"v":66},{"i":98.9,"v":3},{"i":100.7,"v":-81},{"i":102.4,"v":-102},{"i":104.3,"v":-81},{"i":106.5,"v":-144},
        {"i":108.6,"v":-186},{"i":110.8,"v":-207},{"i":113.4,"v":-211},{"i":115.9,"v":-165},{"i":117.8,"v":-81},{"i":119.2,"v":3},
        {"i":120.6,"v":20},{"i":122.4,"v":-18},{"i":124.1,"v":-81},{"i":126.0,"v":-123},{"i":127.9,"v":-111},{"i":129.9,"v":-165},
        {"i":131.8,"v":-228},{"i":133.7,"v":-270},{"i":135.4,"v":-262},{"i":137.6,"v":-199},{"i":139.8,"v":-165},{"i":142.0,"v":-60},
        {"i":144.1,"v":53},{"i":145.9,"v":91},{"i":147.8,"v":66},{"i":149.6,"v":11},{"i":151.4,"v":-31},{"i":153.1,"v":-64},
        {"i":154.6,"v":-115},{"i":155.4,"v":-144}
      ]},
      "mark": {"type": "line", "stroke": "#ff2020", "strokeWidth": 1.3},
      "encoding": {"y": {"field": "v", "type": "quantitative", "scale": {"domain": [-324.8, 124.8], "range": [698, 591], "nice": false, "zero": false}, "axis": null}}
    },
    {
      "data": {"values": [
        {"i":185.87,"v":-324.8,"v2":124.8},{"i":-5.145,"v":-324.8,"v2":-324.8}
      ]},
      "mark": {"type": "rule", "stroke": "#000", "strokeWidth": 1},
      "encoding": {
        "y": {"field": "v", "type": "quantitative", "scale": {"domain": [-324.8, 124.8], "range": [698, 591], "nice": false, "zero": false}, "axis": null},
        "y2": {"field": "v2"}
      }
    },
    {
      "data": {"values": [{"i": -5.145, "i2": 185.87, "v": -324.8}]},
      "mark": {"type": "rule", "stroke": "#000", "strokeWidth": 1},
      "encoding": {
        "x2": {"field": "i2"},
        "y": {"field": "v", "type": "quantitative", "scale": {"domain": [-324.8, 124.8], "range": [698, 591], "nice": false, "zero": false}, "axis": null}
      }
    },
    {
      "data": {"values": [
        {"i":185.87,"i2":187.03,"v":-300},{"i":185.87,"i2":187.03,"v":-250},{"i":185.87,"i2":187.03,"v":-200},{"i":185.87,"i2":187.03,"v":-150},
        {"i":185.87,"i2":187.03,"v":-100},{"i":185.87,"i2":187.03,"v":-50},{"i":185.87,"i2":187.03,"v":0},{"i":185.87,"i2":187.03,"v":50},{"i":185.87,"i2":187.03,"v":100}
      ]},
      "mark": {"type": "rule", "stroke": "#000", "strokeWidth": 1},
      "encoding": {
        "x2": {"field": "i2"},
        "y": {"field": "v", "type": "quantitative", "scale": {"domain": [-324.8, 124.8], "range": [698, 591], "nice": false, "zero": false}, "axis": null}
      }
    },
    {
      "data": {"values": [{"i": 191.52, "v": 0, "t": "0"}, {"i": 191.52, "v": -100, "t": "-100"}, {"i": 191.52, "v": -200, "t": "-200"}]},
      "mark": {"type": "text", "align": "right", "baseline": "middle", "font": "DejaVu Sans", "fontSize": 15, "color": "#222"},
      "encoding": {
        "text": {"field": "t", "type": "nominal"},
        "y": {"field": "v", "type": "quantitative", "scale": {"domain": [-324.8, 124.8], "range": [698, 591], "nice": false, "zero": false}, "axis": null}
      }
    },
    {
      "data": {"values": [
        {"i":-4.3,"v":-324.8,"v2":-350},{"i":-1.4,"v":-324.8,"v2":-350},{"i":2.8,"v":-324.8,"v2":-350},{"i":7.8,"v":-324.8,"v2":-350},
        {"i":12.8,"v":-324.8,"v2":-350},{"i":17.8,"v":-324.8,"v2":-350},{"i":25.8,"v":-324.8,"v2":-350},{"i":30.8,"v":-324.8,"v2":-350},
        {"i":35.8,"v":-324.8,"v2":-350},{"i":44.5,"v":-324.8,"v2":-350},{"i":49.5,"v":-324.8,"v2":-350},{"i":54.5,"v":-324.8,"v2":-350},
        {"i":64.6,"v":-324.8,"v2":-350},{"i":69.6,"v":-324.8,"v2":-350},{"i":74.6,"v":-324.8,"v2":-350},{"i":84.5,"v":-324.8,"v2":-350},
        {"i":89.5,"v":-324.8,"v2":-350},{"i":98.8,"v":-324.8,"v2":-350},{"i":103.3,"v":-324.8,"v2":-350},{"i":108.1,"v":-324.8,"v2":-350},
        {"i":113,"v":-324.8,"v2":-350},{"i":117.8,"v":-324.8,"v2":-350},{"i":122.5,"v":-324.8,"v2":-350},{"i":127.2,"v":-324.8,"v2":-350},
        {"i":131.8,"v":-324.8,"v2":-350},{"i":140.5,"v":-324.8,"v2":-350},{"i":145.3,"v":-324.8,"v2":-350},{"i":149.5,"v":-324.8,"v2":-350},
        {"i":156.8,"v":-324.8,"v2":-350},{"i":161.5,"v":-324.8,"v2":-350},{"i":166.2,"v":-324.8,"v2":-350},{"i":170.9,"v":-324.8,"v2":-350},
        {"i":180.6,"v":-324.8,"v2":-350},{"i":185.3,"v":-324.8,"v2":-350},
        {"i":-0.22,"v":-324.8,"v2":-430},{"i":20.8,"v":-324.8,"v2":-430},{"i":39.49,"v":-324.8,"v2":-430},{"i":59.64,"v":-324.8,"v2":-430},
        {"i":79.78,"v":-324.8,"v2":-430},{"i":94.7,"v":-324.8,"v2":-430},{"i":114.7,"v":-324.8,"v2":-430},{"i":135.7,"v":-324.8,"v2":-430},
        {"i":152.8,"v":-324.8,"v2":-430},{"i":174,"v":-324.8,"v2":-430}
      ]},
      "mark": {"type": "rule", "stroke": "#000", "strokeWidth": 1},
      "encoding": {
        "y": {"field": "v", "type": "quantitative", "scale": {"domain": [-324.8, 124.8], "range": [698, 591], "nice": false, "zero": false}, "axis": null},
        "y2": {"field": "v2"}
      }
    },
    {
      "data": {"values": [
        {"i":0.21,"v":-387.8,"t":"2020"},{"i":21.23,"v":-387.8,"t":"February"},{"i":39.92,"v":-387.8,"t":"March"},{"i":60.07,"v":-387.8,"t":"April"},
        {"i":80.21,"v":-387.8,"t":"May"},{"i":95.13,"v":-387.8,"t":"June"},{"i":115.13,"v":-387.8,"t":"July"},{"i":136.13,"v":-387.8,"t":"August"},
        {"i":153.23,"v":-387.8,"t":"September"},{"i":174.43,"v":-387.8,"t":"October"}
      ]},
      "mark": {"type": "text", "align": "left", "baseline": "middle", "font": "DejaVu Sans", "fontSize": 15, "color": "#222"},
      "encoding": {
        "text": {"field": "t", "type": "nominal"},
        "y": {"field": "v", "type": "quantitative", "scale": {"domain": [-324.8, 124.8], "range": [698, 591], "nice": false, "zero": false}, "axis": null}
      }
    }
  ]
}
